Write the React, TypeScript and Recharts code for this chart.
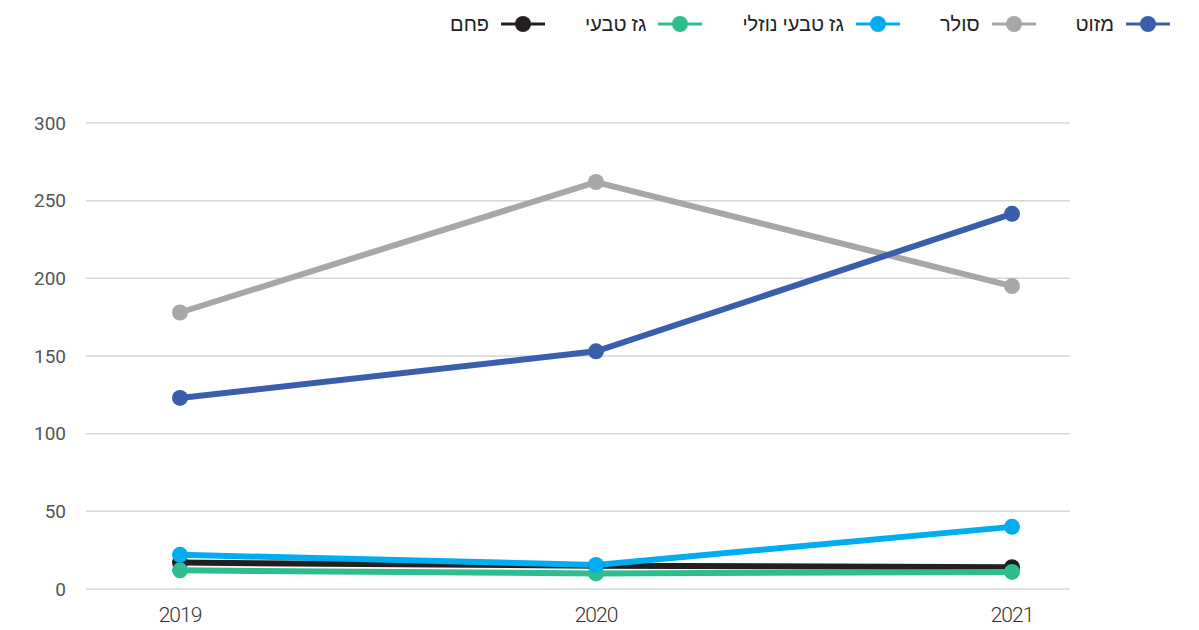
import React from "react";
import { CartesianGrid, Line, LineChart, XAxis, YAxis } from "recharts";

const years = ["2019", "2020", "2021"];
const mazut = [123, 153, 241.5];
const soler = [178, 262, 195];
const lng = [22, 15.5, 40];
const coal = [17, 15, 14];
const naturalGas = [12, 10, 11];
const yTicks = [0, 50, 100, 150, 200, 250, 300];

const series = [
  { key: "coal", name: "פחם", color: "#231f20", values: coal },
  { key: "naturalGas", name: "גז טבעי", color: "#2ebd8f", values: naturalGas },
  { key: "lng", name: "גז טבעי נוזלי", color: "#00aeef", values: lng },
  { key: "soler", name: "סולר", color: "#a7a7aa", values: soler },
  { key: "mazut", name: "מזוט", color: "#3a5dae", values: mazut },
];

const legendOrder = ["mazut", "soler", "lng", "naturalGas", "coal"];

const data = years.map((year, i) => {
  const row: Record<string, string | number> = { year };
  series.forEach((s) => {
    row[s.key] = s.values[i];
  });
  return row;
});

function LegendIcon({ color }: { color: string }) {
  return (
    <svg width="44" height="18" style={{ display: "block" }}>
      <line x1="0" y1="9" x2="44" y2="9" stroke={color} strokeWidth="3" />
      <circle cx="22" cy="9" r="8" fill={color} />
    </svg>
  );
}

export default function App() {
  return (
    <div
      style={{
        position: "absolute",
        top: 0,
        left: 0,
        width: 1199,
        height: 630,
        background: "#fff",
        fontFamily: "Roboto, 'Noto Sans', sans-serif",
      }}
    >
      <div
        style={{
          position: "absolute",
          top: 12,
          right: 29,
          display: "flex",
          flexDirection: "row",
          direction: "rtl",
          alignItems: "center",
          gap: 40,
          fontSize: 20,
          color: "#222",
        }}
      >
        {legendOrder.map((k) => {
          const s = series.find((x) => x.key === k)!;
          return (
            <div key={k} style={{ display: "flex", alignItems: "center", gap: 12 }}>
              <LegendIcon color={s.color} />
              <span>{s.name}</span>
            </div>
          );
        })}
      </div>
      <LineChart
        width={1199}
        height={630}
        data={data}
        margin={{ top: 123, right: 129, bottom: 0, left: 0 }}
      >
        <CartesianGrid vertical={false} stroke="#d6d6d6" strokeWidth={1.5} />
        <XAxis
          dataKey="year"
          axisLine={false}
          tickLine={false}
          height={41}
          padding={{ left: 94, right: 58 }}
          tick={{
            fill: "#333",
            fontSize: 21,
            fontWeight: 300,
            letterSpacing: -1,
          }}
          dy={10}
        />
        <YAxis
          width={86}
          domain={[0, 300]}
          ticks={yTicks}
          axisLine={false}
          tickLine={false}
          tick={{ fill: "#555", fontSize: 19 }}
          dx={-12}
        />
        {series.map((s) => (
          <Line
            key={s.key}
            dataKey={s.key}
            name={s.name}
            stroke={s.color}
            strokeWidth={6}
            dot={{ r: 8, fill: s.color, stroke: s.color, strokeWidth: 0 }}
            activeDot={false}
            isAnimationActive={false}
          />
        ))}
      </LineChart>
    </div>
  );
}
